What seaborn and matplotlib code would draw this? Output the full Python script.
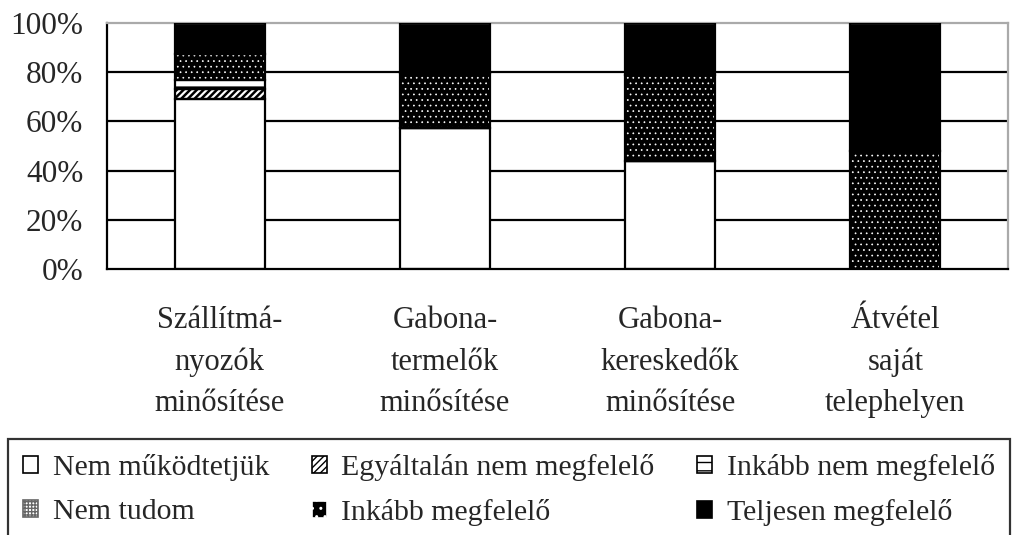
import numpy as np
import pandas as pd
import seaborn as sns
import matplotlib.pyplot as plt
from matplotlib.patches import Patch

# categories and stacked shares (%)
categories = ['Szállítmá-\nnyozók\nminősítése', 'Gabona-\ntermelők\nminősítése',
              'Gabona-\nkereskedők\nminősítése', 'Átvétel\nsaját\ntelephelyen']
series = ['Nem működtetjük', 'Egyáltalán nem megfelelő', 'Inkább nem megfelelő',
          'Nem tudom', 'Inkább megfelelő', 'Teljesen megfelelő']
nem_mukodtetjuk = [69, 57.5, 44, 0]
egyaltalan_nem = [4, 0, 0, 0]
inkabb_nem = [4, 0, 0, 0]
nem_tudom = [0, 0, 0, 0]
inkabb_megfelelo = [10.5, 22, 35, 48]
teljesen = [12.5, 20.5, 21, 52]
y_ticks = [0, 20, 40, 60, 80, 100]

# (face, hatch colour, hatch, hatch linewidth)
styles = {
    'Nem működtetjük': ('white', 'black', '', 1.0),
    'Egyáltalán nem megfelelő': ('white', 'black', '/////', 1.8),
    'Inkább nem megfelelő': ('white', 'black', '--', 1.6),
    'Nem tudom': ('white', '#666666', '+++++', 0.8),
    'Inkább megfelelő': ('black', 'white', '...', 0.5),
    'Teljesen megfelelő': ('black', 'black', '', 1.0),
}

df = pd.DataFrame({'Kategória': categories,
                   series[0]: nem_mukodtetjuk, series[1]: egyaltalan_nem,
                   series[2]: inkabb_nem, series[3]: nem_tudom,
                   series[4]: inkabb_megfelelo, series[5]: teljesen})

sns.set_style('white')
plt.rcParams['font.family'] = ['Liberation Serif', 'DejaVu Serif']

fig = plt.figure(figsize=(10.33, 5.35), dpi=100)
ax = fig.add_axes([107 / 1033, 1 - 269 / 535, 901 / 1033, 246 / 535])

bottom = np.zeros(len(categories))
for s in series:
    vals = df[s].values
    face, hcol, hatch, hlw = styles[s]
    if vals.sum() > 0:
        plt.rcParams['hatch.linewidth'] = hlw
        sns.barplot(data=df, x='Kategória', y=s, color=face, saturation=1, width=0.4,
                    bottom=bottom, edgecolor=hcol, linewidth=0, hatch=hatch, ax=ax, zorder=2)
        sns.barplot(data=df, x='Kategória', y=s, color='black', fill=False, width=0.4,
                    bottom=bottom, edgecolor='black', linewidth=1.6, ax=ax, zorder=3)
    bottom = bottom + vals

ax.set_ylim(0, 100)
ax.set_xlim(-0.5, len(categories) - 0.5)
ax.set_yticks(y_ticks)
ax.set_yticklabels([f'{t}%' for t in y_ticks])
for t in y_ticks[1:-1]:
    ax.axhline(t, color='black', lw=1.6, zorder=1)
ax.set_xlabel('')
ax.set_ylabel('')
ax.set_xticks(range(len(categories)))
ax.set_xticklabels(categories, linespacing=1.55)
ax.set_xticks(np.arange(-0.5, len(categories)), minor=True)
ax.tick_params(axis='x', which='major', length=0, pad=27, labelsize=22)
ax.tick_params(axis='x', which='minor', length=7, width=1.6, direction='out', color='black')
ax.tick_params(axis='y', length=7, width=1.6, direction='out', color='black', pad=10, labelsize=22.5)
for side in ['left', 'bottom']:
    ax.spines[side].set_color('black')
    ax.spines[side].set_linewidth(1.6)
for side in ['top', 'right']:
    ax.spines[side].set_color('#aaaaaa')
    ax.spines[side].set_linewidth(1.6)

handles = []
for s in series:
    face, hcol, hatch, hlw = styles[s]
    plt.rcParams['hatch.linewidth'] = max(hlw, 1.0)
    handles.append(Patch(facecolor=face, edgecolor='black' if face == 'white' and hcol == 'black' else hcol,
                         hatch=hatch.replace('...', '..'), linewidth=1.2, label=s))
order = [0, 3, 1, 4, 2, 5]
leg = fig.legend([handles[i] for i in order], [series[i] for i in order], ncol=3,
                 loc='upper left', bbox_to_anchor=(8 / 1033, 1 - 439 / 535 - 0.01, 1002 / 1033, 0.01),
                 mode='expand', fontsize=21.5, frameon=True, fancybox=False, edgecolor='black',
                 handlelength=0.5, handleheight=0.5, handletextpad=0.5, labelspacing=0.6,
                 borderpad=0.5, borderaxespad=0)
leg.get_frame().set_linewidth(1.6)

fig.savefig('out.png', dpi=100)
